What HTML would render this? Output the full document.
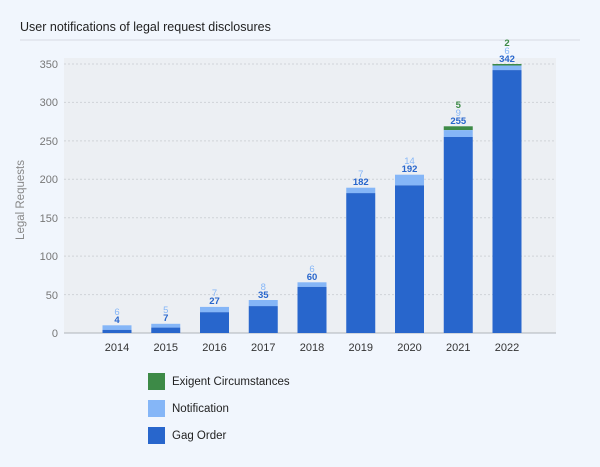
<!DOCTYPE html>
<html><head><meta charset="utf-8"><style>
html,body{margin:0;padding:0;background:#f1f6fd;}
svg{display:block;font-family:"Liberation Sans",sans-serif;}
</style></head><body>
<svg width="600" height="467" viewBox="0 0 600 467">
<rect width="600" height="467" fill="#f1f6fd"/>
<text x="20" y="31" font-size="12.5" fill="#222">User notifications of legal request disclosures</text>
<line x1="20" y1="40" x2="580" y2="40" stroke="#d6dbe3" stroke-width="1"/>
<rect x="64" y="58" width="492" height="275" fill="#eceff3"/>
<g stroke="#cfd3d8" stroke-dasharray="2,2" stroke-width="1">
<line x1="64" y1="64" x2="556" y2="64"/>
<line x1="64" y1="102.4" x2="556" y2="102.4"/>
<line x1="64" y1="140.9" x2="556" y2="140.9"/>
<line x1="64" y1="179.3" x2="556" y2="179.3"/>
<line x1="64" y1="217.7" x2="556" y2="217.7"/>
<line x1="64" y1="256.1" x2="556" y2="256.1"/>
<line x1="64" y1="294.6" x2="556" y2="294.6"/>
</g>
<line x1="64" y1="333" x2="556" y2="333" stroke="#b0b4ba" stroke-width="1"/>
<g font-size="11" fill="#777" text-anchor="end">
<text x="58" y="68">350</text><text x="58" y="106">300</text><text x="58" y="145">250</text>
<text x="58" y="183">200</text><text x="58" y="222">150</text><text x="58" y="260">100</text>
<text x="58" y="299">50</text><text x="58" y="337">0</text>
</g>
<text transform="translate(24,200) rotate(-90)" font-size="11.5" fill="#888" text-anchor="middle">Legal Requests</text>
<g>
<rect x="102.5" y="325.3" width="29" height="4.6" fill="#85b6f7"/><rect x="102.5" y="329.9" width="29" height="3.1" fill="#2866cc"/>
<rect x="151.25" y="323.8" width="29" height="3.8" fill="#85b6f7"/><rect x="151.25" y="327.6" width="29" height="5.4" fill="#2866cc"/>
<rect x="200" y="306.9" width="29" height="5.3" fill="#85b6f7"/><rect x="200" y="312.2" width="29" height="20.8" fill="#2866cc"/>
<rect x="248.75" y="300" width="29" height="6.1" fill="#85b6f7"/><rect x="248.75" y="306.1" width="29" height="26.9" fill="#2866cc"/>
<rect x="297.5" y="282.3" width="29" height="4.6" fill="#85b6f7"/><rect x="297.5" y="286.9" width="29" height="46.1" fill="#2866cc"/>
<rect x="346.25" y="187.7" width="29" height="5.4" fill="#85b6f7"/><rect x="346.25" y="193.1" width="29" height="139.9" fill="#2866cc"/>
<rect x="395" y="174.7" width="29" height="10.7" fill="#85b6f7"/><rect x="395" y="185.4" width="29" height="147.6" fill="#2866cc"/>
<rect x="443.75" y="126.3" width="29" height="3.8" fill="#3d8a47"/><rect x="443.75" y="130.1" width="29" height="6.9" fill="#85b6f7"/><rect x="443.75" y="137" width="29" height="196" fill="#2866cc"/>
<rect x="492.5" y="64" width="29" height="1.5" fill="#3d8a47"/><rect x="492.5" y="65.5" width="29" height="4.6" fill="#85b6f7"/><rect x="492.5" y="70.1" width="29" height="262.9" fill="#2866cc"/>
</g>
<g font-size="9.5" text-anchor="middle">
<g fill="#2866cc" font-weight="bold">
<text x="117" y="323">4</text><text x="165.75" y="321">7</text><text x="214.5" y="304">27</text>
<text x="263.25" y="298">35</text><text x="312" y="280">60</text><text x="360.75" y="185">182</text>
<text x="409.5" y="172">192</text><text x="458.25" y="124">255</text><text x="507" y="62">342</text>
</g>
<g fill="#85b6f7">
<text x="117" y="315">6</text><text x="165.75" y="313">5</text><text x="214.5" y="296">7</text>
<text x="263.25" y="290">8</text><text x="312" y="272">6</text><text x="360.75" y="177">7</text>
<text x="409.5" y="164">14</text><text x="458.25" y="116">9</text><text x="507" y="54">6</text>
</g>
<g fill="#3d8a47" font-weight="bold">
<text x="458.25" y="108">5</text><text x="507" y="46">2</text>
</g>
</g>
<g font-size="11" fill="#333" text-anchor="middle">
<text x="117" y="351">2014</text><text x="165.75" y="351">2015</text><text x="214.5" y="351">2016</text>
<text x="263.25" y="351">2017</text><text x="312" y="351">2018</text><text x="360.75" y="351">2019</text>
<text x="409.5" y="351">2020</text><text x="458.25" y="351">2021</text><text x="507" y="351">2022</text>
</g>
<rect x="148" y="373" width="17" height="17" fill="#3d8a47"/>
<rect x="148" y="400" width="17" height="17" fill="#85b6f7"/>
<rect x="148" y="427" width="17" height="17" fill="#2866cc"/>
<g font-size="11.5" fill="#222">
<text x="172" y="385">Exigent Circumstances</text>
<text x="172" y="412">Notification</text>
<text x="172" y="439">Gag Order</text>
</g>
</svg>
</body></html>
